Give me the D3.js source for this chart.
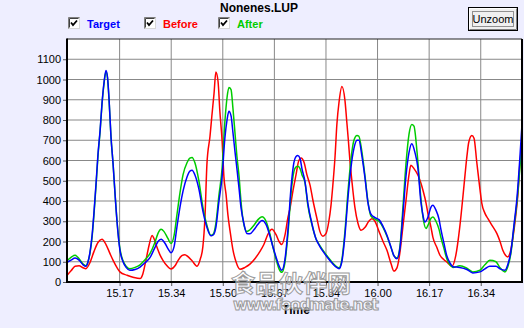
<!DOCTYPE html>
<html><head><meta charset="utf-8">
<script src="https://cdn.jsdelivr.net/npm/d3@7"></script>
<style>
html,body{margin:0;padding:0;background:#eeeeff;}
svg{display:block;font-family:"Liberation Sans",Arial,sans-serif;}
</style></head><body>
<svg id="chart" width="524" height="328"></svg>
<script>
// Chromatogram traces: [retention time (min), response]
const chartTitle = "Nonenes.LUP";
const xTitle = "Time";
const seriesNames = ["Target", "Before", "After"];
const xTicks = [15.17, 15.3367, 15.5033, 15.67, 15.8367, 16.0033, 16.17, 16.3367];
const yTicks = [0, 100, 200, 300, 400, 500, 600, 700, 800, 900, 1000, 1100];

const target = [[15.000,97],[15.013,108],[15.026,118],[15.039,108],[15.052,85],[15.061,78],[15.068,100],[15.074,145],[15.081,230],[15.087,340],[15.094,490],[15.100,630],[15.107,750],[15.113,880],[15.120,990],[15.126,1045],[15.131,1010],[15.136,900],[15.142,720],[15.149,580],[15.155,440],[15.162,290],[15.171,157],[15.181,100],[15.191,72],[15.203,58],[15.220,62],[15.236,74],[15.252,95],[15.268,120],[15.284,170],[15.294,200],[15.304,211],[15.317,190],[15.326,165],[15.336,145],[15.346,175],[15.355,270],[15.365,370],[15.375,450],[15.388,520],[15.397,548],[15.404,552],[15.413,530],[15.426,460],[15.439,350],[15.452,270],[15.465,228],[15.472,232],[15.481,270],[15.491,400],[15.501,520],[15.510,710],[15.517,800],[15.523,843],[15.530,820],[15.536,740],[15.543,640],[15.549,560],[15.556,460],[15.562,370],[15.572,285],[15.581,240],[15.591,238],[15.604,258],[15.617,285],[15.630,304],[15.643,285],[15.656,225],[15.665,175],[15.675,125],[15.685,80],[15.694,58],[15.704,110],[15.714,260],[15.724,470],[15.733,590],[15.740,620],[15.746,625],[15.753,610],[15.759,560],[15.769,495],[15.778,390],[15.791,290],[15.804,215],[15.817,175],[15.830,145],[15.850,105],[15.866,78],[15.879,66],[15.888,100],[15.898,230],[15.908,420],[15.917,560],[15.927,660],[15.937,700],[15.943,700],[15.953,620],[15.963,510],[15.972,395],[15.982,335],[15.995,318],[16.008,308],[16.021,275],[16.034,230],[16.047,170],[16.056,130],[16.066,115],[16.076,170],[16.085,330],[16.095,520],[16.105,640],[16.114,683],[16.124,640],[16.134,560],[16.143,400],[16.150,330],[16.156,296],[16.166,320],[16.176,370],[16.182,379],[16.192,355],[16.202,310],[16.208,260],[16.218,190],[16.227,130],[16.237,95],[16.247,75],[16.269,72],[16.292,62],[16.311,45],[16.334,50],[16.350,65],[16.366,78],[16.386,78],[16.399,65],[16.415,58],[16.424,85],[16.434,150],[16.444,280],[16.454,420],[16.463,610],[16.470,780]];

const before = [[15.000,33],[15.013,55],[15.026,78],[15.039,80],[15.052,70],[15.061,66],[15.074,95],[15.087,150],[15.100,195],[15.113,211],[15.126,185],[15.139,140],[15.149,107],[15.162,70],[15.171,50],[15.194,33],[15.216,22],[15.236,17],[15.245,40],[15.255,107],[15.265,180],[15.275,230],[15.281,215],[15.291,170],[15.300,135],[15.310,107],[15.323,80],[15.336,64],[15.349,80],[15.359,107],[15.371,130],[15.381,135],[15.391,125],[15.404,105],[15.420,78],[15.430,110],[15.439,175],[15.446,330],[15.452,580],[15.462,720],[15.468,820],[15.475,930],[15.481,1037],[15.488,990],[15.494,840],[15.501,700],[15.507,520],[15.514,430],[15.520,330],[15.527,250],[15.536,160],[15.546,100],[15.559,63],[15.575,72],[15.591,88],[15.607,115],[15.623,150],[15.636,185],[15.649,235],[15.662,260],[15.675,235],[15.685,200],[15.694,185],[15.704,230],[15.714,320],[15.720,360],[15.730,450],[15.740,530],[15.749,600],[15.756,612],[15.766,590],[15.775,530],[15.785,480],[15.795,400],[15.808,310],[15.817,250],[15.827,226],[15.837,240],[15.846,300],[15.853,380],[15.859,480],[15.866,620],[15.872,780],[15.879,890],[15.888,966],[15.898,897],[15.904,790],[15.909,700],[15.914,600],[15.921,490],[15.930,370],[15.940,290],[15.950,255],[15.963,270],[15.975,300],[15.985,312],[15.995,300],[16.008,250],[16.021,200],[16.034,155],[16.047,90],[16.056,54],[16.066,70],[16.076,150],[16.085,270],[16.095,400],[16.105,530],[16.111,576],[16.121,560],[16.134,527],[16.143,490],[16.150,453],[16.160,390],[16.166,338],[16.176,270],[16.182,222],[16.195,170],[16.205,132],[16.218,110],[16.227,99],[16.244,78],[16.256,130],[16.269,272],[16.279,420],[16.286,530],[16.292,620],[16.298,690],[16.308,724],[16.315,710],[16.324,590],[16.334,460],[16.340,390],[16.350,340],[16.360,313],[16.373,280],[16.389,239],[16.399,200],[16.408,157],[16.418,130],[16.424,124],[16.434,160],[16.441,222],[16.450,330],[16.457,437],[16.463,580],[16.470,680]];

const after = [[15.000,105],[15.013,122],[15.026,132],[15.039,115],[15.052,88],[15.061,80],[15.068,100],[15.074,140],[15.081,220],[15.087,330],[15.094,480],[15.100,620],[15.107,745],[15.113,875],[15.120,985],[15.126,1040],[15.131,1005],[15.136,895],[15.142,720],[15.149,580],[15.155,440],[15.162,295],[15.171,165],[15.181,105],[15.191,78],[15.203,65],[15.220,72],[15.236,85],[15.252,110],[15.268,140],[15.284,195],[15.294,240],[15.304,260],[15.313,250],[15.326,215],[15.336,190],[15.346,230],[15.355,330],[15.365,440],[15.375,530],[15.388,590],[15.397,612],[15.404,615],[15.413,590],[15.426,500],[15.439,370],[15.452,280],[15.465,230],[15.472,235],[15.481,290],[15.491,430],[15.501,560],[15.510,790],[15.517,910],[15.523,960],[15.530,950],[15.536,860],[15.543,730],[15.549,620],[15.556,520],[15.562,400],[15.572,280],[15.581,250],[15.591,258],[15.604,280],[15.617,308],[15.630,322],[15.643,300],[15.656,235],[15.665,175],[15.675,115],[15.685,65],[15.694,48],[15.704,95],[15.714,240],[15.724,440],[15.733,545],[15.740,568],[15.746,571],[15.753,560],[15.759,530],[15.769,490],[15.778,380],[15.791,285],[15.804,215],[15.817,180],[15.830,150],[15.850,110],[15.866,82],[15.879,70],[15.888,110],[15.898,250],[15.908,450],[15.917,600],[15.927,700],[15.937,724],[15.943,720],[15.953,640],[15.963,520],[15.972,400],[15.982,325],[15.995,310],[16.008,300],[16.021,270],[16.034,225],[16.047,170],[16.056,130],[16.066,118],[16.076,180],[16.085,360],[16.095,580],[16.105,730],[16.114,778],[16.121,770],[16.131,640],[16.140,470],[16.150,320],[16.160,264],[16.166,280],[16.176,315],[16.182,321],[16.192,300],[16.202,260],[16.208,220],[16.218,165],[16.227,115],[16.237,85],[16.247,72],[16.269,80],[16.292,68],[16.311,50],[16.334,58],[16.350,85],[16.366,107],[16.386,100],[16.399,70],[16.415,50],[16.424,75],[16.434,140],[16.444,270],[16.454,400],[16.463,560],[16.470,700]];

const colors = { Target: "#0000ff", Before: "#ff0000", After: "#00cc00" };
const seriesData = { Target: target, Before: before, After: after };

const svg = d3.select("#chart");
const W = 524, H = 328;
const plot = { left: 67, right: 522, top: 39, bottom: 282 };

svg.append("rect").attr("width", W).attr("height", H).attr("fill", "#eeeeff");

const x = d3.scaleLinear().domain([15.0, 16.47]).range([plot.left, plot.right]);
const y = d3.scaleLinear().domain([0, 1200]).range([plot.bottom, plot.top]);

// plot background
svg.append("rect")
  .attr("x", plot.left).attr("y", plot.top)
  .attr("width", plot.right - plot.left).attr("height", plot.bottom - plot.top)
  .attr("fill", "#ffffff");

// grid
const grid = svg.append("g").attr("stroke", "#888888").attr("stroke-width", 1);
grid.selectAll("line.v").data(xTicks).join("line").attr("class", "v")
  .attr("x1", d => x(d)).attr("x2", d => x(d))
  .attr("y1", plot.top).attr("y2", plot.bottom);
grid.selectAll("line.h").data(yTicks.filter(d => d > 0)).join("line").attr("class", "h")
  .attr("x1", plot.left).attr("x2", plot.right)
  .attr("y1", d => y(d)).attr("y2", d => y(d));

// axes
const yAxis = svg.append("g").attr("transform", `translate(${plot.left},0)`)
  .call(d3.axisLeft(y).tickValues(yTicks).tickSize(4).tickPadding(2).tickFormat(d3.format("d")));
const xAxis = svg.append("g").attr("transform", `translate(0,${plot.bottom})`)
  .call(d3.axisBottom(x).tickValues(xTicks).tickSize(4).tickPadding(3).tickFormat(d3.format(".2f")));
[yAxis, xAxis].forEach(a => {
  a.select(".domain").remove();
  a.selectAll(".tick line").attr("stroke", "#555555");
  a.selectAll(".tick text").attr("fill", "#000").style("font-size", "11px")
    .style("font-family", '"Liberation Sans", Arial, sans-serif');
});

// traces
const line = d3.line().x(d => x(d[0])).y(d => y(d[1])).curve(d3.curveMonotoneX);
const clip = svg.append("clipPath").attr("id", "plotclip").append("rect")
  .attr("x", plot.left).attr("y", plot.top)
  .attr("width", plot.right - plot.left).attr("height", plot.bottom - plot.top);
const traces = svg.append("g").attr("clip-path", "url(#plotclip)");
["Before", "After", "Target"].forEach(name => {
  traces.append("path").datum(seriesData[name])
    .attr("d", line).attr("fill", "none")
    .attr("stroke", colors[name]).attr("stroke-width", 1.5)
    .attr("stroke-linejoin", "round");
});

// frame
svg.append("line").attr("x1", plot.left).attr("x2", plot.right).attr("y1", plot.top).attr("y2", plot.top)
  .attr("stroke", "#222").attr("stroke-width", 1);
svg.append("line").attr("x1", plot.left).attr("x2", plot.left).attr("y1", plot.top - 0.5).attr("y2", plot.bottom + 1)
  .attr("stroke", "#000").attr("stroke-width", 2);
svg.append("line").attr("x1", plot.left - 1).attr("x2", plot.right + 1).attr("y1", plot.bottom).attr("y2", plot.bottom)
  .attr("stroke", "#000").attr("stroke-width", 2);
svg.append("line").attr("x1", plot.right).attr("x2", plot.right).attr("y1", plot.top).attr("y2", plot.bottom)
  .attr("stroke", "#000").attr("stroke-width", 2);

// title
svg.append("text").attr("x", 259).attr("y", 11.5).attr("text-anchor", "middle")
  .style("font-size", "12px").style("font-weight", "bold").text(chartTitle);

// legend with checkboxes
const legendX = [68, 144, 218];
const legend = svg.append("g");
seriesNames.forEach((name, i) => {
  const g = legend.append("g").attr("transform", `translate(${legendX[i]},17)`);
  g.append("rect").attr("x", 0.5).attr("y", 0.5).attr("width", 11).attr("height", 11)
    .attr("fill", "#fff").attr("stroke", "#d8d8d8");
  g.append("path").attr("d", "M0.5,11.5V0.5H11.5").attr("fill", "none").attr("stroke", "#808080");
  g.append("path").attr("d", "M1.5,10.5V1.5H10.5").attr("fill", "none").attr("stroke", "#404040");
  g.append("path").attr("d", "M3,5.5L5,8L9,3.5").attr("fill", "none").attr("stroke", "#000").attr("stroke-width", 1.8);
  g.append("text").attr("x", 19).attr("y", 10.5)
    .attr("fill", colors[name]).style("font-size", "11px").style("font-weight", "bold").text(name);
});

// Unzoom button
const btn = svg.append("g").attr("transform", "translate(468,7)");
btn.append("rect").attr("x", 0.5).attr("y", 0.5).attr("width", 49).attr("height", 23)
  .attr("fill", "#f0f0f0").attr("stroke", "#000");
btn.append("path").attr("d", "M1.5,22.5V1.5H48.5").attr("fill", "none").attr("stroke", "#ffffff");
btn.append("path").attr("d", "M1.5,22.5H48.5V1.5").attr("fill", "none").attr("stroke", "#808080");
btn.append("rect").attr("x", 4.5).attr("y", 4.5).attr("width", 41).attr("height", 15)
  .attr("fill", "none").attr("stroke", "#333").attr("stroke-dasharray", "1,1");
btn.append("text").attr("x", 25).attr("y", 16).attr("text-anchor", "middle")
  .style("font-size", "11px").text("Unzoom");

// x axis title
svg.append("text").attr("x", 296).attr("y", 314).attr("text-anchor", "middle")
  .style("font-size", "12px").style("font-weight", "bold").text(xTitle);

// site watermark
const wm = svg.append("g").attr("fill", "#ffffff").attr("fill-opacity", 0.55)
  .attr("stroke", "#9a9a9a").attr("stroke-width", 1);
wm.append("text").attr("x", 231).attr("y", 292)
  .style("font-family", '"Noto Sans CJK SC", sans-serif').style("font-size", "24px").style("font-weight", "bold")
  .attr("textLength", 120).text("食品伙伴网");
wm.append("text").attr("x", 233).attr("y", 310)
  .style("font-family", '"DejaVu Sans", sans-serif').style("font-size", "16px").style("font-weight", "bold")
  .attr("textLength", 146).text("www.foodmate.net");
</script>
</body></html>
